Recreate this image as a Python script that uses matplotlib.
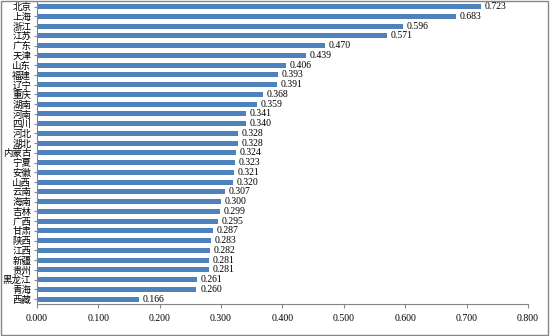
import matplotlib
matplotlib.use("Agg")
from matplotlib import pyplot as plt
from matplotlib.patches import Rectangle

plt.rcParams['font.family'] = ['Noto Sans CJK SC', 'DejaVu Sans']

# provinces, top to bottom
provinces = ["北京", "上海", "浙江", "江苏", "广东", "天津", "山东", "福建", "辽宁", "重庆",
             "湖南", "河南", "四川", "河北", "湖北", "内蒙古", "宁夏", "安徽", "山西", "云南",
             "海南", "吉林", "广西", "甘肃", "陕西", "江西", "新疆", "贵州", "黑龙江", "青海", "西藏"]
values = [0.723, 0.683, 0.596, 0.571, 0.470, 0.439, 0.406, 0.393, 0.391, 0.368,
          0.359, 0.341, 0.340, 0.328, 0.328, 0.324, 0.323, 0.321, 0.320, 0.307,
          0.300, 0.299, 0.295, 0.287, 0.283, 0.282, 0.281, 0.281, 0.261, 0.260, 0.166]
x_ticks = [0.0, 0.1, 0.2, 0.3, 0.4, 0.5, 0.6, 0.7, 0.8]

bar_color = "#4F81BD"
axis_color = "#868686"

fig = plt.figure(figsize=(5.5, 3.36), dpi=100)
ax = fig.add_axes([0.067, 0.095, 0.893, 0.9])

pos = list(range(len(provinces)))
ax.barh(pos, values, height=0.5, color=bar_color)
ax.set_ylim(len(provinces) - 0.5, -0.5)
ax.set_xlim(0, 0.8)

for p, v in zip(pos, values):
    ax.text(v + 0.006, p, f"{v:.3f}", va="center", ha="left", fontsize=7,
            family="Liberation Serif")

ax.set_yticks(pos)
ax.set_yticklabels(provinces, fontsize=6.8)
ax.set_xticks(x_ticks)
ax.set_xticklabels([f"{t:.3f}" for t in x_ticks], fontsize=7, family="Liberation Serif")
ax.tick_params(axis="y", length=2, pad=2, color=axis_color)
ax.tick_params(axis="x", length=3, pad=4, color=axis_color)

for s in ["top", "right"]:
    ax.spines[s].set_visible(False)
for s in ["left", "bottom"]:
    ax.spines[s].set_color(axis_color)
    ax.spines[s].set_linewidth(0.8)

# outer chart border
fig.patches.append(Rectangle((0.002, 0.003), 0.995, 0.994, transform=fig.transFigure,
                             fill=False, edgecolor="#868686", linewidth=1))

fig.savefig("out.png", dpi=100)
